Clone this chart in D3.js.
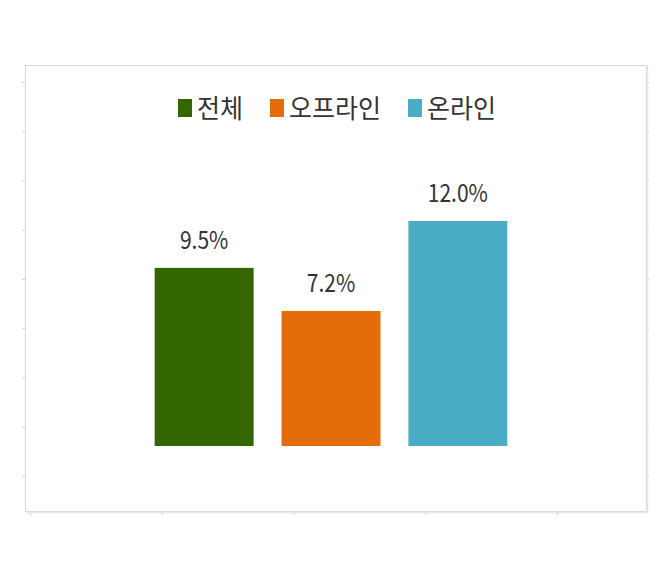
<!DOCTYPE html>
<html>
<head>
<meta charset="utf-8">
<style>
body { margin: 0; background: #fff; }
text { font-family: "Noto Sans CJK KR", "Noto Sans", sans-serif; fill: #333; }
</style>
</head>
<body>
<svg id="chart" width="672" height="583"></svg>
<script src="https://d3js.org/d3.v7.min.js"></script>
<script>
// data
var categories = ["전체", "오프라인", "온라인"];
var values = [9.5, 7.2, 12.0];
var colors = ["#336600", "#E46C0A", "#4BACC6"];

var svg = d3.select("#chart");

// chart frame
var frame = {left: 25, top: 65, right: 646, bottom: 511};

// leftover faint ticks round the frame
var tickY = d3.scaleLinear().domain([0, 8]).range([476, 82]);
var tickX = d3.scaleLinear().domain([0, 4]).range([30, 557]);

svg.append("g")
    .attr("transform", "translate(" + frame.left + ",0)")
    .call(d3.axisLeft(tickY).ticks(8).tickSize(3).tickFormat(""))
    .call(g => g.select(".domain").remove())
    .call(g => g.selectAll("line").attr("stroke", "#d0d0d0"));
svg.append("g")
    .attr("transform", "translate(" + frame.right + ",0)")
    .call(d3.axisRight(tickY).ticks(8).tickSize(3).tickFormat(""))
    .call(g => g.select(".domain").remove())
    .call(g => g.selectAll("line").attr("stroke", "#d0d0d0"));
svg.append("g")
    .attr("transform", "translate(0," + frame.bottom + ")")
    .call(d3.axisBottom(tickX).ticks(4).tickSize(4).tickFormat(""))
    .call(g => g.select(".domain").remove())
    .call(g => g.selectAll("line").attr("stroke", "#c8c8c8"));

svg.append("rect")
    .attr("x", frame.left + 0.5)
    .attr("y", frame.top + 0.5)
    .attr("width", frame.right - frame.left)
    .attr("height", frame.bottom - frame.top)
    .attr("fill", "none")
    .attr("stroke", "#d9d9d9");
// slight shadow on bottom and right edges
svg.append("path")
    .attr("d", "M" + (frame.left + 1) + "," + (frame.bottom + 1.5) + "H" + (frame.right + 1.5) + "V" + (frame.top + 1))
    .attr("fill", "none")
    .attr("stroke", "#e6e6e6")
    .attr("stroke-width", 1.5);

var x = d3.scaleBand()
    .domain(categories)
    .range([142, 520])
    .paddingInner(0.22)
    .paddingOuter(0.1);

var y = d3.scaleLinear()
    .domain([0, 12])
    .range([446, 221]);

var data = categories.map((c, i) => ({name: c, value: values[i], color: colors[i]}));

svg.append("g")
  .selectAll("rect")
  .data(data)
  .enter().append("rect")
    .attr("x", d => x(d.name))
    .attr("y", d => y(d.value))
    .attr("width", x.bandwidth())
    .attr("height", d => y(0) - y(d.value))
    .attr("fill", d => d.color);

// value labels (text in the picture is a bit tall, so stretch it)
svg.append("g")
  .selectAll("text")
  .data(data)
  .enter().append("text")
    .attr("transform", d => "translate(" + (x(d.name) + x.bandwidth() / 2) + "," + (y(d.value) - 19) + ") scale(1,1.18)")
    .attr("text-anchor", "middle")
    .attr("font-size", 21)
    .text(d => d.value.toFixed(1) + "%");

// legend
var legend = svg.append("g");
var lx = 178;
data.forEach(function(d) {
  var item = legend.append("g").attr("transform", "translate(" + lx + ",0)");
  item.append("rect")
      .attr("x", 0)
      .attr("y", 99)
      .attr("width", 14)
      .attr("height", 18)
      .attr("fill", d.color);
  var t = item.append("text")
      .attr("transform", "translate(19,118) scale(1,1.06)")
      .attr("font-size", 25)
      .text(d.name);
  lx += 19 + t.node().getComputedTextLength() + 27;
});
</script>
</body>
</html>
